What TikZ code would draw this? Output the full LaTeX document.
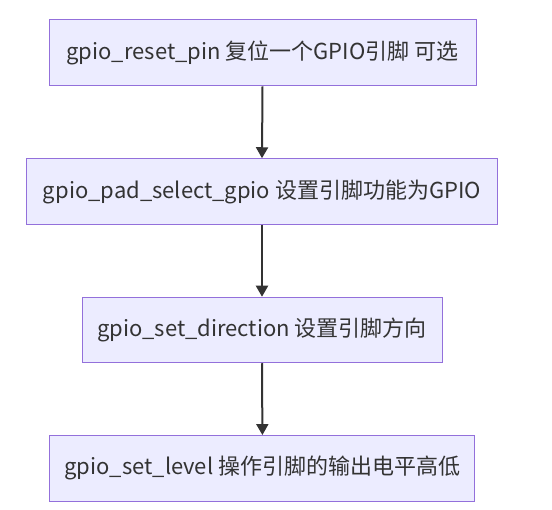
\documentclass[tikz,border=0pt]{standalone}
\usepackage{fontspec}
\setmainfont{Noto Sans CJK SC}
\usetikzlibrary{arrows.meta}
\definecolor{boxfill}{HTML}{ECECFF}
\definecolor{boxline}{HTML}{9370DB}
\definecolor{ink}{HTML}{333333}
\tikzset{
  stepbox/.style={draw=boxline, fill=boxfill, line width=1pt, text=ink,
    inner sep=0pt, font=\fontsize{22}{26}\selectfont},
  flow/.style={draw=ink, line width=2pt, -{Triangle[length=11pt,width=12pt]}}
}
\begin{document}
\begin{tikzpicture}[x=1pt,y=-1pt]
\useasboundingbox (0,0) rectangle (552,510);
\node[stepbox, minimum width=427pt, minimum height=66pt] (a) at (262.5,53) {gpio\_reset\_pin 复位一个GPIO引脚 可选};
\node[stepbox, minimum width=471pt, minimum height=65.5pt] (b) at (262,191.5) {gpio\_pad\_select\_gpio 设置引脚功能为GPIO};
\node[stepbox, minimum width=360pt, minimum height=65.5pt] (c) at (262,330) {gpio\_set\_direction 设置引脚方向};
\node[stepbox, minimum width=425pt, minimum height=65.5pt] (d) at (262.4,468.3) {gpio\_set\_level 操作引脚的输出电平高低};
\draw[flow] (a.south) -- (b.north);
\draw[flow] (b.south) -- (c.north);
\draw[flow] (c.south) -- (d.north);
\end{tikzpicture}
\end{document}
